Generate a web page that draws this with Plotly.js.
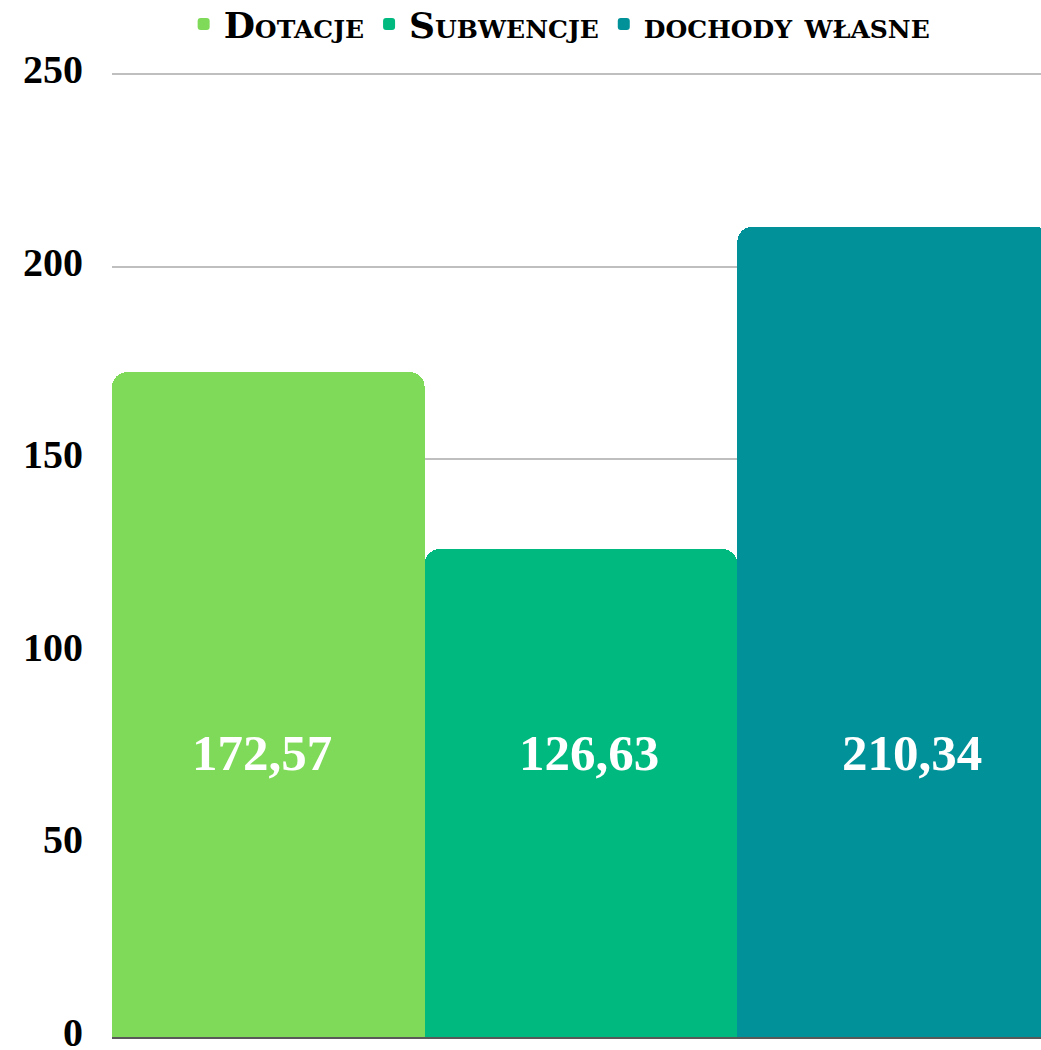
<!DOCTYPE html>
<html>
<head>
<meta charset="utf-8">
<script src="https://cdn.plot.ly/plotly-3.0.1.min.js"></script>
<style>
  html, body { margin: 0; padding: 0; background: #fff; overflow: hidden; }
  #chart { width: 1050px; height: 1050px; }
</style>
</head>
<body>
<div id="chart"></div>
<script>
// Struktura dochodów
const categories = ['Dotacje', 'Subwencje', 'dochody własne'];
const values = [172.57, 126.63, 210.34];
const labels = ['172,57', '126,63', '210,34'];
const colors = ['#80DA5A', '#00B97E', '#009298'];
const yTicks = [0, 50, 100, 150, 200, 250];

const serif = '"Liberation Serif", "DejaVu Serif", serif';
// drobne przesunięcia podpisów (jak w oryginale)
const labelShift = [-6, 8, 18];

const traces = categories.map((name, i) => ({
    type: 'bar',
    name: name,
    x: [name],
    y: [values[i]],
    marker: { color: colors[i] },
    hoverinfo: 'none'
}));

// podpisy wartości na stałej wysokości
const annotations = categories.map((name, i) => ({
    x: name,
    xref: 'x',
    y: 0.263,
    yref: 'paper',
    xshift: labelShift[i],
    text: labels[i],
    showarrow: false,
    font: { family: serif, size: 51, color: '#ffffff', weight: 'bold' }
}));

const layout = {
    width: 1050,
    height: 1050,
    margin: { l: 112, r: 0, t: 72, b: 13, autoexpand: false },
    paper_bgcolor: '#ffffff',
    plot_bgcolor: '#ffffff',
    barmode: 'overlay',
    bargap: 0,
    barcornerradius: 15,
    showlegend: true,
    legend: {
        orientation: 'h',
        xref: 'container',
        x: 0.533,
        xanchor: 'center',
        yref: 'container',
        y: 0.977,
        yanchor: 'middle',
        font: { family: '"DejaVu Serif", serif', size: 36, color: '#000000', weight: 'bold', variant: 'small-caps' },
        itemclick: false
    },
    xaxis: {
        type: 'category',
        showticklabels: false,
        showgrid: false,
        ticks: '',
        showline: true,
        linecolor: '#595959',
        linewidth: 2,
        fixedrange: true
    },
    yaxis: {
        range: [0, 250.5],
        tickvals: yTicks,
        ticktext: yTicks.map(String),
        showgrid: true,
        gridcolor: '#BFBFBF',
        gridwidth: 2,
        zeroline: false,
        showline: false,
        ticks: '',
        ticklabelstandoff: 28,
        ticklabelshift: -5,
        ticklabeloverflow: 'allow',
        tickfont: { family: serif, size: 40, color: '#000000', weight: 'bold' },
        fixedrange: true
    },
    annotations: annotations
};

Plotly.newPlot('chart', traces, layout, { displayModeBar: false, staticPlot: true });
</script>
</body>
</html>
